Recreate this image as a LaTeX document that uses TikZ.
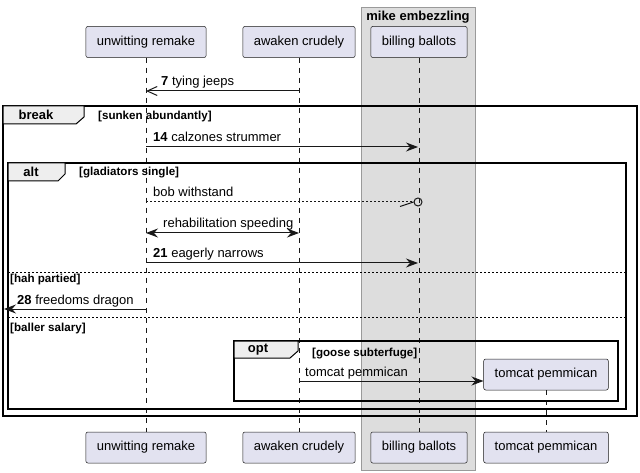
\documentclass[tikz,border=0pt]{standalone}
\usepackage{fontspec}
\setmainfont{Liberation Sans}
\usetikzlibrary{arrows.meta}
\usepackage{xcolor}
\definecolor{partfill}{HTML}{E2E2F0}
\definecolor{partline}{HTML}{181818}
\definecolor{groupfill}{HTML}{DDDDDD}
\definecolor{groupline}{HTML}{9A9A9A}
\definecolor{tabfill}{HTML}{EEEEEE}

\begin{document}
\begin{tikzpicture}[x=1pt,y=-1pt,every node/.style={inner sep=0,font=\fontsize{13}{15}\selectfont},
        part/.style={draw=partline,fill=partfill,rounded corners=2pt,line width=0.5pt,inner xsep=11pt,minimum height=31pt},
        life/.style={draw=partline,line width=0.5pt,dash pattern=on 5pt off 5pt},
        msg/.style={draw=partline,line width=1pt},
        head/.style={-{Stealth[length=12pt,width=9pt,inset=4pt]}},
        frame/.style={draw=black,line width=1.5pt},
        tab/.style={draw=black,line width=1pt,fill=tabfill},
        tabtext/.style={font=\fontsize{13}{15}\selectfont\bfseries},
        guard/.style={anchor=base west,font=\fontsize{11.6}{13}\selectfont\bfseries},
        msgtext/.style={anchor=base west}]
        
        \useasboundingbox (0,0) rectangle (640,473);
        
        \filldraw[fill=groupfill,draw=groupline,line width=0.7pt] (361,7) rectangle (475,470);
        \node[tabtext] (grp) at (418,17) {mike embezzling};
        
        \foreach \n/\px/\txt in {unw/146/unwitting remake,awk/299/awaken crudely,bil/419/billing ballots}{
            \node[part] (\n T) at (\px,42) {\txt};
            \node[part] (\n B) at (\px,447.5) {\txt};
            \draw[life] (\n T) -- (\n B);
        }
        \node[part] (tcmT) at (546,374.5) {tomcat pemmican};
        \node[part] (tcmB) at (546,447.5) {tomcat pemmican};
        \draw[life] (tcmT) -- (tcmB);
        
        % frames
        \draw[frame] (3,106) rectangle (637,416); % break
        \draw[frame] (8,163) rectangle (626,409); % alt
        \draw[frame] (234,341) rectangle (618,401); % opt
        \draw[tab] (3,106) -- (84,106) -- (84,117) -- (76,124) -- (3,124) -- cycle;
        \draw[tab] (8,163) -- (65,163) -- (65,174) -- (58,181) -- (8,181) -- cycle;
        \draw[tab] (234,341) -- (298,341) -- (298,351) -- (290,358) -- (234,358) -- cycle;
        \node[tabtext] (brk) at (36,115) {break};
        \node[tabtext] (alt) at (31,172) {alt};
        \node[tabtext] (opt) at (258,350) {opt};
        \node[guard] (g1) at (98,120) {[sunken abundantly]};
        \node[guard] (g2) at (79,176) {[gladiators single]};
        \node[guard] (g3) at (10,283) {[hah partied]};
        \node[guard] (g4) at (10,331) {[baller salary]};
        \node[guard] (g5) at (312,356) {[goose subterfuge]};
        \draw[line width=0.8pt,dash pattern=on 2pt off 2pt] (8,272) -- (626,272);
        \draw[line width=0.8pt,dash pattern=on 2pt off 2pt] (8,317) -- (626,317);
        
        % messages
        \coordinate (m7a) at (299,91);
        \coordinate (m7b) at (146,91);
        \coordinate (m14a) at (146,147);
        \coordinate (m14b) at (418,147);
        \coordinate (bobA) at (146,202);
        \node[draw=partline,line width=1pt,circle,minimum size=8pt] (bobO) at (418,202) {};
        \coordinate (bobS) at (400,206.5);
        \coordinate (rehA) at (146,233);
        \coordinate (rehB) at (299,233);
        \coordinate (m21a) at (146,263);
        \coordinate (m21b) at (418,263);
        \coordinate (m28a) at (146,309);
        \coordinate (m28b) at (4,309);
        \coordinate (tcmA) at (299,381);
        
        \draw[msg,-{Straight Barb[length=10pt,width=9pt]}] (m7a) -- (m7b);
        \draw[msg,head] (m14a) -- (m14b);
        \draw[msg,dash pattern=on 2pt off 2pt] (bobA) -- (bobO.west);
        \draw[msg] (bobS) -- (bobO.west);
        \draw[msg,{Stealth[length=12pt,width=9pt,inset=4pt]}-{Stealth[length=12pt,width=9pt,inset=4pt]}] (rehA) -- (rehB);
        \draw[msg,head] (m21a) -- (m21b);
        \draw[msg,head] (m28a) -- (m28b);
        \draw[msg,head] (tcmA) -- (tcmT.west |- tcmA);
        
        \node[msgtext] (t7) at (161,86) {\textbf{7} tying jeeps};
        \node[msgtext] (t14) at (153,142) {\textbf{14} calzones strummer};
        \node[msgtext] (tbob) at (153,197) {bob withstand};
        \node[msgtext] (treh) at (163,228) {rehabilitation speeding};
        \node[msgtext] (t21) at (153,258) {\textbf{21} eagerly narrows};
        \node[msgtext] (t28) at (17,304) {\textbf{28} freedoms dragon};
        \node[msgtext] (ttcm) at (305,376) {tomcat pemmican};
        
    \end{tikzpicture}
\end{document}
